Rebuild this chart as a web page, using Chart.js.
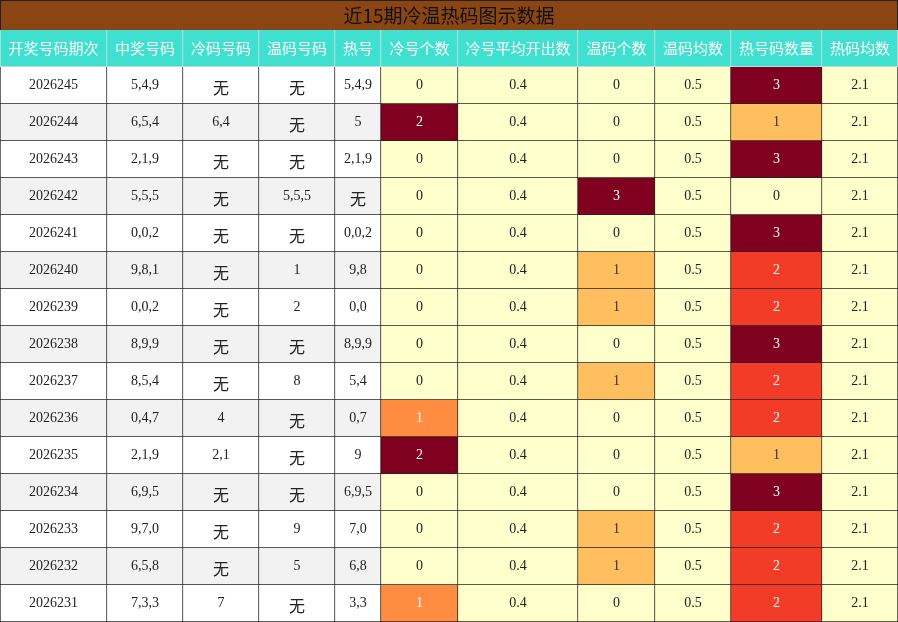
<!DOCTYPE html>
<html><head><meta charset="utf-8">
<script src="https://cdn.jsdelivr.net/npm/chart.js@4/dist/chart.umd.min.js"></script>
<style>html,body{margin:0;padding:0;background:#fff}#w{width:898px;height:622px}</style>
</head><body><div id="w"><canvas id="c"></canvas></div>
<script>
const title = "近15期冷温热码图示数据";
const headers = ["开奖号码期次","中奖号码","冷码号码","温码号码","热号","冷号个数","冷号平均开出数","温码个数","温码均数","热号码数量","热码均数"];
const colEdges = [0,107,183,259,335,381,458,578,655,731,822,898];
const periods = ["2026245","2026244","2026243","2026242","2026241","2026240","2026239","2026238","2026237","2026236","2026235","2026234","2026233","2026232","2026231"];
const winNums = ["5,4,9","6,5,4","2,1,9","5,5,5","0,0,2","9,8,1","0,0,2","8,9,9","8,5,4","0,4,7","2,1,9","6,9,5","9,7,0","6,5,8","7,3,3"];
const coldNums = ["无","6,4","无","无","无","无","无","无","无","4","2,1","无","无","无","7"];
const warmNums = ["无","无","无","5,5,5","无","1","2","无","8","无","无","无","9","5","无"];
const hotNums = ["5,4,9","5","2,1,9","无","0,0,2","9,8","0,0","8,9,9","5,4","0,7","9","6,9,5","7,0","6,8","3,3"];
const coldCount = [0,2,0,0,0,0,0,0,0,1,2,0,0,0,1];
const coldAvg = Array(15).fill("0.4");
const warmCount = [0,0,0,3,0,1,1,0,1,0,0,0,1,1,0];
const warmAvg = Array(15).fill("0.5");
const hotCount = [3,1,3,0,3,2,2,3,2,2,1,3,2,2,2];
const hotAvg = Array(15).fill("2.1");

const cols = [periods,winNums,coldNums,warmNums,hotNums,coldCount,coldAvg,warmCount,warmAvg,hotCount,hotAvg];
const rowLabels = ["h"].concat(periods);
const YEL="#FFFFCC";
function cellStyle(ci, ri){ // ri: 0 header
  if(ri===0) return {bg:"#40E0D0", fg:"#fff", hdr:true};
  const v = cols[ci][ri-1];
  const base = ci<5 ? (ri%2===0?"#F2F2F2":"#FFFFFF") : YEL;
  if(ci===5){ if(v===1) return {bg:"#FF8C40",fg:"#fff"}; if(v>=2) return {bg:"#800020",fg:"#fff"}; }
  if(ci===7){ if(v===1) return {bg:"#FFBF5F",fg:"#333"}; if(v>=2) return {bg:"#800020",fg:"#fff"}; }
  if(ci===9){ if(v===1) return {bg:"#FFBF5F",fg:"#333"}; if(v===2) return {bg:"#F23C28",fg:"#fff"}; if(v===3) return {bg:"#800020",fg:"#fff"}; }
  return {bg:base, fg:"#222"};
}
const datasets = cols.map((c,ci)=>({
  data: rowLabels.map(()=>[colEdges[ci],colEdges[ci+1]]),
  backgroundColor: rowLabels.map((_,ri)=>cellStyle(ci,ri).bg),
  borderColor: rowLabels.map((_,ri)=>ri===0?"#dddddd":"#222"),
  borderWidth: {top:0,left:ci===0?1:0,right:1,bottom:1},
  borderSkipped:false, barPercentage:1, categoryPercentage:1
}));
const plug = {
  id:"tbl",
  beforeDraw(ch){ const g=ch.ctx; g.save(); g.fillStyle="#8B4513"; g.fillRect(0,0,898,30);
    g.strokeStyle="#222"; g.strokeRect(0.5,0.5,897,30); g.restore(); },
  afterDatasetsDraw(ch){
    const g=ch.ctx; g.save(); g.textAlign="center"; g.textBaseline="middle";
    ch.data.datasets.forEach((ds,ci)=>{
      ch.getDatasetMeta(ci).data.forEach((el,ri)=>{
        const st=cellStyle(ci,ri);
        const txt = ri===0 ? headers[ci] : String(cols[ci][ri-1]);
        const cx=(el.x+el.base)/2;
        if(ri===0 || txt==="无"){ g.font = (ri===0?"15px":"16px")+" 'Noto Sans CJK SC'"; }
        else g.font="14px 'Liberation Serif'";
        g.fillStyle=st.fg; g.fillText(txt,cx,el.y+(txt==="无"?2:0));
      });
    });
    g.restore();
  }
};
new Chart(document.getElementById("c"),{
  type:"bar",
  data:{labels:rowLabels,datasets},
  options:{indexAxis:"y",responsive:true,maintainAspectRatio:false,animation:false,
    layout:{padding:{top:30,left:0,right:0,bottom:0}},
    scales:{x:{type:"linear",min:0,max:898,display:false,stacked:false},
            y:{display:false,stacked:true}},
    plugins:{legend:{display:false},tooltip:{enabled:false},
      title:{display:false}}},
  plugins:[plug,{id:"ttl",afterDraw(ch){const g=ch.ctx;g.save();g.font="19px 'Noto Sans CJK SC'";g.fillStyle="#111";g.textAlign="center";g.textBaseline="middle";g.fillText(title,449,16);g.restore();}}]
});
</script></body></html>
